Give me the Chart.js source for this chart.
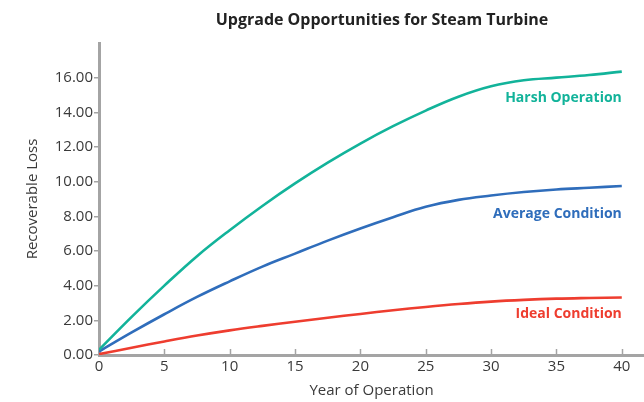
<!DOCTYPE html>
<html>
<head>
<meta charset="utf-8">
<script src="https://cdn.jsdelivr.net/npm/chart.js@4"></script>
<style>
  html, body { margin: 0; padding: 0; background: #fff; }
  #wrap { width: 644px; height: 402px; }
</style>
</head>
<body>
<div id="wrap"><canvas id="chart"></canvas></div>
<script>
  // values
  var YEARS = [0, 2.5, 5, 7.5, 10, 12.5, 15, 17.5, 20, 22.5, 25, 27.5, 30, 32.5, 35, 37.5, 40];
  var HARSH = [0.3, 2.2, 4.0, 5.7, 7.2, 8.6, 9.9, 11.1, 12.2, 13.2, 14.1, 14.9, 15.5, 15.85, 16.0, 16.15, 16.35];
  var AVERAGE = [0.2, 1.3, 2.35, 3.35, 4.25, 5.1, 5.85, 6.6, 7.3, 7.95, 8.55, 8.95, 9.2, 9.4, 9.55, 9.65, 9.75];
  var IDEAL = [0.05, 0.42, 0.78, 1.12, 1.42, 1.68, 1.92, 2.15, 2.37, 2.58, 2.77, 2.94, 3.08, 3.18, 3.25, 3.29, 3.32];
  var SERIES_NAMES = ['Harsh Operation', 'Average Condition', 'Ideal Condition'];
  var X_TICKS = [0, 5, 10, 15, 20, 25, 30, 35, 40];
  var Y_TICKS = [0, 2, 4, 6, 8, 10, 12, 14, 16];

  var COLORS = ['#12b39a', '#2f6dbb', '#ee3d2f'];
  var LABEL_Y = [14.8, 8.15, 2.35]; // where the inline series labels sit, in data units
  var AXIS_GREY = '#a4a4a4';
  var FONT = '"Open Sans", "DejaVu Sans", sans-serif';

  function series(values) {
    return YEARS.map(function (x, i) { return { x: x, y: values[i] }; });
  }

  var datasets = [HARSH, AVERAGE, IDEAL].map(function (vals, i) {
    return {
      label: SERIES_NAMES[i],
      data: series(vals),
      borderColor: COLORS[i],
      borderWidth: 2.6,
      pointRadius: 0,
      tension: 0.4,
      fill: false,
    };
  });

  // title, inline series labels and the inward x tick marks
  var decorations = {
    id: 'decorations',
    afterDraw: function (chart) {
      var ctx = chart.ctx;
      var xs = chart.scales.x, ys = chart.scales.y;
      ctx.save();

      ctx.strokeStyle = AXIS_GREY;
      ctx.lineWidth = 1.5;
      X_TICKS.forEach(function (v) {
        if (v === 0) return;
        var px = Math.round(xs.getPixelForValue(v)) + 0.5;
        ctx.beginPath();
        ctx.moveTo(px, ys.bottom);
        ctx.lineTo(px, ys.bottom - 6);
        ctx.stroke();
      });

      ctx.fillStyle = '#222';
      ctx.font = 'bold 16px ' + FONT;
      ctx.textAlign = 'center';
      ctx.textBaseline = 'middle';
      ctx.fillText('Upgrade Opportunities for Steam Turbine', 382, 20);

      ctx.font = 'bold 14px ' + FONT;
      ctx.textAlign = 'right';
      SERIES_NAMES.forEach(function (name, i) {
        ctx.fillStyle = COLORS[i];
        ctx.fillText(name, xs.getPixelForValue(40), ys.getPixelForValue(LABEL_Y[i]));
      });
      ctx.restore();
    }
  };

  new Chart(document.getElementById('chart'), {
    type: 'line',
    data: { datasets: datasets },
    plugins: [decorations],
    options: {
      responsive: true,
      maintainAspectRatio: false,
      animation: false,
      layout: { padding: { top: 43, right: 0, bottom: 0, left: 0 } },
      plugins: { legend: { display: false }, tooltip: { enabled: false } },
      scales: {
        x: {
          type: 'linear',
          min: 0,
          max: 41.7,
          afterBuildTicks: function (axis) {
            axis.ticks = X_TICKS.map(function (v) { return { value: v }; });
          },
          afterFit: function (axis) { axis.height = 47; },
          grid: { display: true, drawOnChartArea: false, drawTicks: false },
          border: { color: AXIS_GREY, width: 3 },
          ticks: { color: '#3a3a3a', font: { family: FONT, size: 15 }, padding: 3, maxRotation: 0 },
          title: {
            display: true,
            text: 'Year of Operation',
            color: '#3a3a3a',
            font: { family: FONT, size: 15 },
            padding: { top: 0, bottom: 2 },
          },
        },
        y: {
          min: 0,
          max: 18,
          afterBuildTicks: function (axis) {
            axis.ticks = Y_TICKS.map(function (v) { return { value: v }; });
          },
          afterFit: function (axis) { axis.width = 99; },
          grid: { display: true, drawOnChartArea: false, drawTicks: true, tickLength: 5, color: AXIS_GREY, lineWidth: 1.5 },
          border: { color: AXIS_GREY, width: 3 },
          ticks: {
            color: '#3a3a3a',
            font: { family: FONT, size: 15 },
            padding: 1,
            callback: function (v) { return v.toFixed(2); },
          },
          title: {
            display: true,
            text: 'Recoverable Loss',
            color: '#3a3a3a',
            font: { family: FONT, size: 15 },
            padding: { top: 24, bottom: 0 },
          },
        },
      },
    },
  });
</script>
</body>
</html>
